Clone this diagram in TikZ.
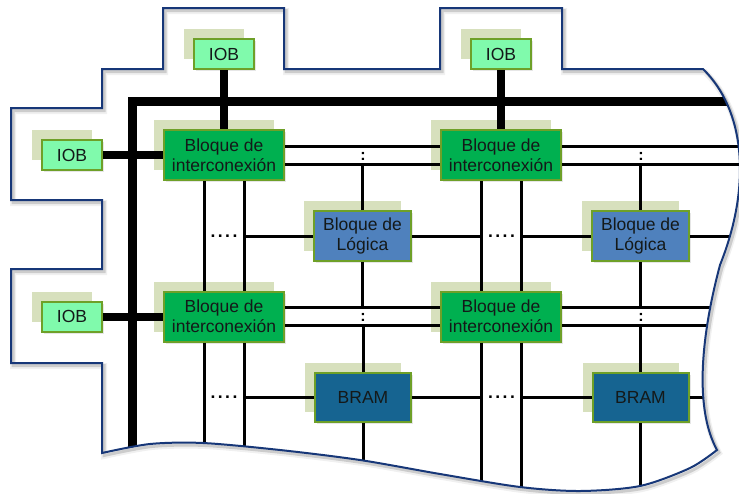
\documentclass[tikz,border=0pt]{standalone}
\usepackage{fontspec}
\setmainfont{Liberation Sans}
\usetikzlibrary{calc,shadows}

\definecolor{outlineblue}{RGB}{23,55,120}
\definecolor{iobfill}{RGB}{128,250,172}
\definecolor{boxedge}{RGB}{110,160,40}
\definecolor{icfill}{RGB}{0,176,80}
\definecolor{logicfill}{RGB}{79,129,189}
\definecolor{bramfill}{RGB}{22,100,145}
\definecolor{glow}{RGB}{215,224,189}
\definecolor{ink}{RGB}{20,25,25}

% Border of the FPGA fabric piece: stepped left/top edge, torn right and bottom edges
\newcommand{\fabricoutline}{(102,453) -- (102,363) -- (11,363) -- (11,269) -- (102,269)
  -- (102,200) -- (11,200) -- (11,108) -- (102,108) -- (102,69) -- (163,69) -- (163,8)
  -- (284,8) -- (284,69) -- (440,69) -- (440,8) -- (562,8) -- (562,69) -- (703,69)
  .. controls (745,110) and (752,185) .. (720,265)
  .. controls (700,340) and (695,410) .. (717,450)
  -- plot[smooth] coordinates {(717,450) (690,468) (640,486) (580,491) (520,487)
     (440,474) (360,460) (280,450) (203,443) (150,444) (102,453)} -- cycle}

\begin{document}
\begin{tikzpicture}[x=1pt,y=-1pt,
  box/.style={draw=boxedge, line width=2pt, inner sep=0pt, align=center,
    text=ink, font=\fontsize{17.5}{20}\selectfont,
    general shadow={fill=glow, shadow xshift=-10pt, shadow yshift=10pt},
    drop shadow={opacity=0.2, shadow xshift=2pt, shadow yshift=-2pt}},
  iob/.style={box, fill=iobfill, minimum width=60pt, minimum height=30pt},
  ic/.style={box, fill=icfill, minimum width=120pt, minimum height=50pt},
  logic/.style={box, fill=logicfill, minimum width=97pt, minimum height=50pt},
  bram/.style={box, fill=bramfill, minimum width=96pt, minimum height=49pt},
  wire/.style={line width=3pt},
  bus/.style={line width=9pt, line join=miter},
  iolink/.style={line width=8pt},
  dots/.style={inner sep=0pt, font=\fontsize{17.5}{20}\selectfont\bfseries},
  vdots/.style={inner sep=0pt, font=\fontsize{16}{18}\selectfont\bfseries},
  rim/.style={line width=2pt, draw=outlineblue, line join=miter}]

\useasboundingbox (0,0) rectangle (739,493);

% soft shadow of the border
\draw[line width=6pt, black, opacity=0.06, xshift=2pt, yshift=-3pt] \fabricoutline;
\draw[line width=3pt, black, opacity=0.15, xshift=2pt, yshift=-2.5pt] \fabricoutline;

% I/O blocks
\node[iob] (iobA) at (224,54) {IOB};
\node[iob] (iobB) at (501,54) {IOB};
\node[iob] (iobC) at (72,155) {IOB};
\node[iob] (iobD) at (72,316.5) {IOB};

% interconnect blocks
\node[ic] (icA) at (224,155) {Bloque de\\interconexión};
\node[ic] (icB) at (501,155) {Bloque de\\interconexión};
\node[ic] (icC) at (224,316.5) {Bloque de\\interconexión};
\node[ic] (icD) at (501,316.5) {Bloque de\\interconexión};

% logic blocks and block RAMs
\node[logic] (lgA) at (362.5,236) {Bloque de\\Lógica};
\node[logic] (lgB) at (640.5,236) {Bloque de\\Lógica};
\node[bram] (brA) at (363,397.5) {BRAM};
\node[bram] (brB) at (640.5,397.5) {BRAM};

% reference points for the routing tracks
\coordinate (farE) at (770,0);
\coordinate (farS) at (0,520);
\coordinate (busC) at (132,101);
\coordinate (hA1) at ($(icA.east)+(0,-9)$);
\coordinate (hA2) at ($(icA.east)+(0,9)$);
\coordinate (hC1) at ($(icC.east)+(0,-9)$);
\coordinate (hC2) at ($(icC.east)+(0,9)$);
\coordinate (vA1) at ($(icA.south)+(-20,0)$);
\coordinate (vA2) at ($(icA.south)+(20,0)$);
\coordinate (vB1) at ($(icB.south)+(-20,0)$);
\coordinate (vB2) at ($(icB.south)+(20,0)$);

\begin{scope}
  \clip \fabricoutline;
  % horizontal routing tracks
  \draw[wire] (hA1) -- (hA1 -| icB.west);
  \draw[wire] (hA2) -- (hA2 -| icB.west);
  \draw[wire] (hA1 -| icB.east) -- (hA1 -| farE);
  \draw[wire] (hA2 -| icB.east) -- (hA2 -| farE);
  \draw[wire] (hC1) -- (hC1 -| icD.west);
  \draw[wire] (hC2) -- (hC2 -| icD.west);
  \draw[wire] (hC1 -| icD.east) -- (hC1 -| farE);
  \draw[wire] (hC2 -| icD.east) -- (hC2 -| farE);
  % vertical routing tracks
  \draw[wire] (vA1) -- (vA1 |- icC.north);
  \draw[wire] (vA2) -- (vA2 |- icC.north);
  \draw[wire] (vA1 |- icC.south) -- (vA1 |- farS);
  \draw[wire] (vA2 |- icC.south) -- (vA2 |- farS);
  \draw[wire] (vB1) -- (vB1 |- icD.north);
  \draw[wire] (vB2) -- (vB2 |- icD.north);
  \draw[wire] (vB1 |- icD.south) -- (vB1 |- farS);
  \draw[wire] (vB2 |- icD.south) -- (vB2 |- farS);
  % logic / BRAM columns
  \draw[wire] (lgA.north) -- (lgA.north |- hA2);
  \draw[wire] (lgA.south) -- (lgA.south |- hC1);
  \draw[wire] (brA.north) -- (brA.north |- hC2);
  \draw[wire] (brA.south) -- (brA.south |- farS);
  \draw[wire] (lgB.north) -- (lgB.north |- hA2);
  \draw[wire] (lgB.south) -- (lgB.south |- hC1);
  \draw[wire] (brB.north) -- (brB.north |- hC2);
  \draw[wire] (brB.south) -- (brB.south |- farS);
  % logic / BRAM rows
  \draw[wire] (lgA.west) -- (lgA.west -| vA2);
  \draw[wire] (lgA.east) -- (lgA.east -| vB1);
  \draw[wire] (lgB.west) -- (lgB.west -| vB2);
  \draw[wire] (lgB.east) -- (lgB.east -| farE);
  \draw[wire] (brA.west) -- (brA.west -| vA2);
  \draw[wire] (brA.east) -- (brA.east -| vB1);
  \draw[wire] (brB.west) -- (brB.west -| vB2);
  \draw[wire] (brB.east) -- (brB.east -| farE);
  % global bus
  \draw[bus] (busC |- farS) -- (busC) -- (busC -| farE);
\end{scope}

% I/O connections
\draw[iolink] (iobA.south) -- (icA.north);
\draw[iolink] (iobB.south) -- (icB.north);
\draw[iolink] (iobC.east) -- (icA.west);
\draw[iolink] (iobD.east) -- (icC.west);

% continuation marks
\node[dots] (dA) at (224,236) {.\kern2.5pt.\kern2.5pt.\kern2.5pt.};
\node[dots] (dB) at (501.5,236) {.\kern2.5pt.\kern2.5pt.\kern2.5pt.};
\node[dots] (dC) at (224,397.5) {.\kern2.5pt.\kern2.5pt.\kern2.5pt.};
\node[dots] (dD) at (501.5,397.5) {.\kern2.5pt.\kern2.5pt.\kern2.5pt.};
\node[vdots] (cA) at (363,156) {:};
\node[vdots] (cB) at (641,156) {:};
\node[vdots] (cC) at (363,317) {:};
\node[vdots] (cD) at (641,317) {:};

% fabric border
\draw[rim] \fabricoutline;
\end{tikzpicture}
\end{document}
